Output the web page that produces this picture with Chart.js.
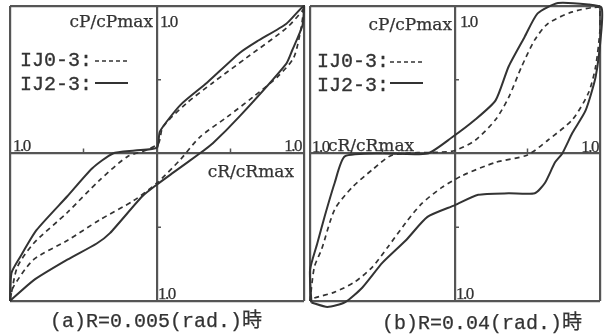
<!DOCTYPE html>
<html><head><meta charset="utf-8">
<script src="https://cdn.jsdelivr.net/npm/chart.js@4"></script>
<style>
html,body{margin:0;padding:0;background:#fff;width:604px;height:336px;overflow:hidden;position:relative}
.box{position:absolute;top:0}
.cap{position:absolute;font:20px "Liberation Mono","Noto Sans CJK JP",monospace;color:#333;white-space:nowrap;-webkit-text-stroke:0.25px #333}
</style></head>
<body>
<div class="box" style="left:0;width:310px;height:336px"><canvas id="ca" width="310" height="336"></canvas></div>
<div class="box" style="left:306px;width:298px;height:336px"><canvas id="cb" width="298" height="336"></canvas></div>
<div class="cap" style="left:50px;top:304px">(a)R=0.005(rad.)時</div>
<div class="cap" style="left:382px;top:306px">(b)R=0.04(rad.)時</div>
<script>
// ---- data (normalised cR/cRmax , cP/cPmax) ----
const seriesNames = ["IJ0-3", "IJ2-3"];
// (a) R=0.005 rad
const aSolidX = [-1,-0.99,-0.93,-0.82,-0.61,-0.44,-0.30,-0.15,0,0.02,0.16,0.34,0.56,0.68,0.88,1,0.99,0.92,0.88,0.56,0.38,0.29,0.11,0,-0.10,-0.32,-0.41,-0.61,-0.84,-1];
const aSolidY = [-1,-0.81,-0.70,-0.52,-0.29,-0.10,0.0,0.02,0.04,0.15,0.33,0.48,0.68,0.76,0.88,1,0.87,0.70,0.61,0.25,0.07,0.0,-0.13,-0.21,-0.29,-0.54,-0.61,-0.72,-0.86,-1];
const aDashX = [-1,-0.95,-0.84,-0.61,-0.39,-0.20,-0.08,0.01,0.04,0.20,0.38,0.61,0.88,0.99,1,0.98,0.93,0.82,0.65,0.48,0.29,0.16,0,-0.16,-0.39,-0.61,-0.84,-0.98,-1];
const aDashY = [-1,-0.77,-0.61,-0.40,-0.18,-0.02,0.02,0.07,0.18,0.34,0.48,0.65,0.85,0.97,1,0.85,0.65,0.52,0.38,0.25,0.11,-0.04,-0.20,-0.32,-0.45,-0.59,-0.72,-0.91,-1];
// (b) R=0.04 rad
const bSolidX = [-0.99,-1.0,-0.95,-0.90,-0.83,-0.76,-0.50,-0.19,-0.02,0.14,0.28,0.37,0.48,0.57,0.71,0.92,1.01,1.01,0.97,0.90,0.81,0.74,0.69,0.62,0.55,0.37,0.16,0,-0.19,-0.34,-0.50,-0.64,-0.76,-0.88,-0.99];
const bSolidY = [-1.01,-0.79,-0.61,-0.43,-0.20,-0.02,0.0,0.0,0.11,0.23,0.36,0.59,0.79,0.95,1.02,1.01,0.99,0.84,0.52,0.29,0.14,0.0,-0.06,-0.20,-0.27,-0.27,-0.28,-0.35,-0.43,-0.59,-0.74,-0.91,-1.01,-1.04,-1.01];
const bDashX = [-1,-0.97,-0.92,-0.83,-0.71,-0.57,-0.43,-0.09,0,0.14,0.28,0.37,0.46,0.55,0.64,0.81,1.0,1.0,0.97,0.92,0.81,0.64,0.50,0.28,0.05,-0.09,-0.23,-0.34,-0.46,-0.57,-0.69,-0.83,-0.97,-1];
const bDashY = [-1,-0.77,-0.65,-0.38,-0.23,-0.11,-0.01,0.01,0.02,0.09,0.23,0.38,0.59,0.77,0.88,0.96,0.99,0.84,0.59,0.41,0.23,0.09,-0.01,-0.06,-0.15,-0.23,-0.34,-0.47,-0.63,-0.77,-0.87,-0.94,-0.98,-1];
const axisTicks = [-1, -0.5, 0, 0.5, 1];
const axisLabel = "1.0";
const xTitle = "cR/cRmax", yTitle = "cP/cPmax";

const pts = (xs, ys) => xs.map((x, i) => ({x, y: ys[i]}));
const INK = '#333';
const SERIF = '17px "DejaVu Serif", serif';
const NUM = '17px "Liberation Serif", serif';
const MONO = '20px "Liberation Mono", monospace';

const annot = {
  id: 'annot',
  afterDraw(chart, args, o) {
    const ctx = chart.ctx, xs = chart.scales.x, ys = chart.scales.y;
    ctx.save();
    // half-unit tick marks on the centre axes
    ctx.strokeStyle = '#555'; ctx.lineWidth = 1.5;
    const x0 = xs.getPixelForValue(0), y0 = ys.getPixelForValue(0);
    [-0.5, 0.5].forEach(v => {
      const px = xs.getPixelForValue(v);
      ctx.beginPath(); ctx.moveTo(px, y0); ctx.lineTo(px, y0 - 5); ctx.stroke();
      const py = ys.getPixelForValue(v);
      ctx.beginPath(); ctx.moveTo(x0, py); ctx.lineTo(x0 + 4, py); ctx.stroke();
    });
    ctx.fillStyle = '#333'; ctx.strokeStyle = '#333';
    o.texts.forEach(t => {
      ctx.font = t.f; ctx.textAlign = t.a || 'left'; ctx.textBaseline = 'alphabetic';
      ctx.letterSpacing = t.ls || '0px';
      ctx.fillText(t.t, t.x, t.y);
      ctx.lineWidth = t.sw || 0.25;
      ctx.strokeText(t.t, t.x, t.y);
    });
    ctx.letterSpacing = '0px';
    // legend samples
    const L = o.leg;
    ctx.strokeStyle = INK; ctx.lineWidth = 1.7;
    ctx.setLineDash([4, 3]);
    ctx.beginPath(); ctx.moveTo(L.x0, L.y1); ctx.lineTo(L.x1, L.y1); ctx.stroke();
    ctx.setLineDash([]); ctx.lineWidth = 2;
    ctx.beginPath(); ctx.moveTo(L.x0, L.y2); ctx.lineTo(L.x1, L.y2); ctx.stroke();
    ctx.restore();
  }
};

function makeChart(id, solid, dash, pad, texts, leg) {
  return new Chart(document.getElementById(id), {
    type: 'scatter',
    data: { datasets: [
      { label: seriesNames[0], data: dash, showLine: true, borderColor: INK, borderWidth: 1.7,
        borderDash: [5, 4], pointRadius: 0, tension: 0.25, clip: false, fill: false },
      { label: seriesNames[1], data: solid, showLine: true, borderColor: INK, borderWidth: 2,
        pointRadius: 0, tension: 0.2, clip: false, fill: false }
    ]},
    options: {
      responsive: false, animation: false, devicePixelRatio: 1,
      layout: { padding: pad },
      plugins: { legend: { display: false }, tooltip: { enabled: false }, title: { display: false },
        annot: { texts, leg } },
      scales: {
        x: { type: 'linear', min: -1, max: 1, afterBuildTicks: s => { s.ticks = axisTicks.map(v => ({value: v})); },
          ticks: { display: false }, border: { display: false },
          grid: { drawTicks: false, lineWidth: 2.2, color: c => (c.tick && Math.abs(c.tick.value) === 0.5) ? 'rgba(0,0,0,0)' : '#555' } },
        y: { type: 'linear', min: -1, max: 1, afterBuildTicks: s => { s.ticks = axisTicks.map(v => ({value: v})); },
          ticks: { display: false }, border: { display: false },
          grid: { drawTicks: false, lineWidth: 2.2, color: c => (c.tick && Math.abs(c.tick.value) === 0.5) ? 'rgba(0,0,0,0)' : '#555' } }
      }
    },
    plugins: [annot]
  });
}

makeChart('ca', pts(aSolidX, aSolidY), pts(aDashX, aDashY),
  { left: 10, right: 6, top: 6, bottom: 35 },
  [
    { t: yTitle, x: 153, y: 27, f: SERIF, a: 'right' },
    { t: axisLabel, x: 160, y: 27, f: NUM, ls: '-1.5px' },
    { t: seriesNames[0] + ':', x: 20, y: 66, f: MONO, sw: 0.3 },
    { t: seriesNames[1] + ':', x: 20, y: 90, f: MONO, sw: 0.3 },
    { t: axisLabel, x: 13, y: 151, f: NUM, ls: '-1.5px' },
    { t: axisLabel, x: 301, y: 151, f: NUM, a: 'right', ls: '-1.5px' },
    { t: xTitle, x: 294, y: 177, f: SERIF, a: 'right' },
    { t: axisLabel, x: 158, y: 299, f: NUM, ls: '-1.5px' }
  ],
  { x0: 95, x1: 128, y1: 61, y2: 83 });

makeChart('cb', pts(bSolidX, bSolidY), pts(bDashX, bDashY),
  { left: 4, right: 4, top: 6, bottom: 35 },
  [
    { t: yTitle, x: 146, y: 30, f: SERIF, a: 'right' },
    { t: axisLabel, x: 154, y: 27, f: NUM, ls: '-1.5px' },
    { t: seriesNames[0] + ':', x: 11, y: 67, f: MONO, sw: 0.3 },
    { t: seriesNames[1] + ':', x: 11, y: 91, f: MONO, sw: 0.3 },
    { t: axisLabel, x: 6, y: 152, f: NUM, ls: '-1.5px' },
    { t: xTitle, x: 22, y: 151, f: SERIF },
    { t: axisLabel, x: 292, y: 152, f: NUM, a: 'right', ls: '-1.5px' },
    { t: axisLabel, x: 150, y: 299, f: NUM, ls: '-1.5px' }
  ],
  { x0: 84, x1: 117, y1: 62, y2: 83 });
</script>
</body></html>
